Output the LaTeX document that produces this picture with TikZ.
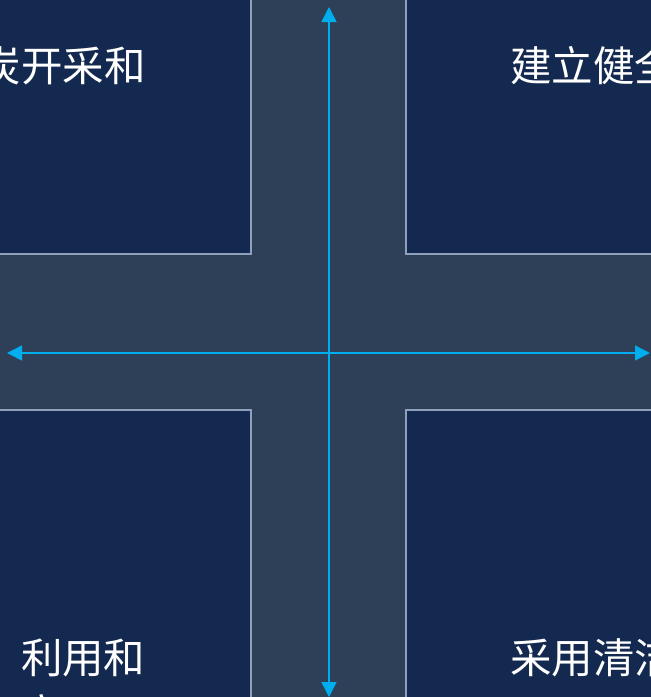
\documentclass[tikz,border=0pt]{standalone}
\usepackage{fontspec}
\newfontfamily\cjk{Noto Sans CJK SC}
\usetikzlibrary{arrows.meta}
\definecolor{bgcol}{HTML}{2E3F58}
\definecolor{boxcol}{HTML}{13294F}
\definecolor{edgecol}{HTML}{8FA0BC}
\definecolor{axiscol}{HTML}{00AEEF}
\tikzset{
  panel/.style={draw=edgecol, line width=1.3pt, fill=boxcol, inner sep=0pt, outer sep=0pt},
  lbl/.style={text=white, inner sep=0pt, outer sep=0pt, font=\cjk\fontsize{41.5}{56}\selectfont},
  axis/.style={draw=axiscol, line width=1.5pt, {Triangle[length=15pt,width=15pt]}-{Triangle[length=15pt,width=15pt]}}
}
\begin{document}
\begin{tikzpicture}[x=1pt,y=-1pt]
\useasboundingbox (0,0) rectangle (651,697);
\clip (0,0) rectangle (651,697);
\fill[bgcol] (0,0) rectangle (651,697);
\node[panel, anchor=north west, minimum width=271pt, minimum height=274pt] (tl) at (-20,-20) {};
\node[panel, anchor=north west, minimum width=265pt, minimum height=274pt] (tr) at (406,-20) {};
\node[panel, anchor=north west, minimum width=271pt, minimum height=307pt] (bl) at (-20,410) {};
\node[panel, anchor=north west, minimum width=265pt, minimum height=307pt] (br) at (406,410) {};
\node[lbl, anchor=base east] (tlt) at (146,81) {炭开采和};
\node[lbl, anchor=base west] (trt) at (510,81) {建立健全};
\node[lbl, anchor=base west] (blt) at (21,673) {利用和};
\node[lbl, anchor=base west] (blt2) at (21,729) {高};
\node[lbl, anchor=base west] (brt) at (510,673) {采用清洁};
\coordinate (top) at (329,7);
\coordinate (bot) at (329,697);
\coordinate (lft) at (7,353);
\coordinate (rgt) at (650,353);
\draw[axis] (bot) -- (top);
\draw[axis] (lft) -- (rgt);
\end{tikzpicture}
\end{document}
